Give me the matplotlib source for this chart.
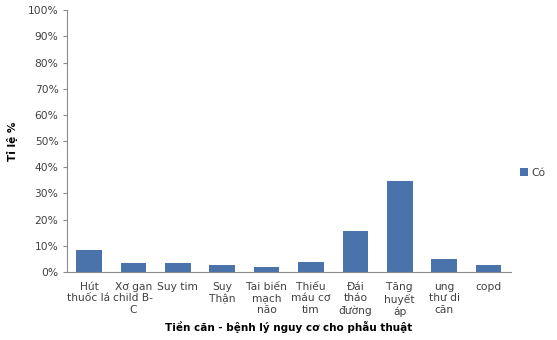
import matplotlib
matplotlib.use("Agg")
import matplotlib.pyplot as plt
from matplotlib.ticker import FuncFormatter, MultipleLocator

categories = [
    "Hút\nthuốc lá",
    "Xơ gan\nchild B-\nC",
    "Suy tim",
    "Suy\nThận",
    "Tai biến\nmạch\nnão",
    "Thiếu\nmáu cơ\ntim",
    "Đái\ntháo\nđường",
    "Tăng\nhuyết\náp",
    "ung\nthư di\ncăn",
    "copd",
]
co_values = [8.4, 3.4, 3.4, 2.5, 1.9, 3.8, 15.6, 34.7, 5.0, 2.5]

bar_color = "#4A72AB"
axis_color = "#8C8C8C"
text_color = "#404040"

plt.rcParams["font.family"] = ["DejaVu Sans"]

fig = plt.figure(figsize=(5.57, 3.4), dpi=100)
ax = fig.add_axes([0.120, 0.20, 0.797, 0.77])

x = range(len(categories))
ax.bar(x, co_values, width=0.58, color=bar_color, label="Có")

ax.set_xlim(-0.5, len(categories) - 0.5)
ax.set_ylim(0, 100)
ax.yaxis.set_major_locator(MultipleLocator(10))
ax.yaxis.set_major_formatter(FuncFormatter(lambda v, _: f"{v:.0f}%"))
ax.set_xticks(list(x))
ax.set_xticklabels(categories, fontsize=7.7, color=text_color, linespacing=1.2)
ax.tick_params(axis="x", length=0, pad=7)
ax.tick_params(axis="y", labelsize=7.7, labelcolor=text_color, length=3,
               color=axis_color, pad=3)

for side in ("top", "right"):
    ax.spines[side].set_visible(False)
for side in ("left", "bottom"):
    ax.spines[side].set_color(axis_color)
    ax.spines[side].set_linewidth(0.8)

ax.set_ylabel("Tỉ lệ %", fontsize=7.5, fontweight="bold", labelpad=7)
ax.set_xlabel("Tiền căn - bệnh lý nguy cơ cho phẫu thuật", fontsize=7.5,
              fontweight="bold", labelpad=3)

ax.legend(loc="center left", bbox_to_anchor=(1.0, 0.38), frameon=False,
          fontsize=7.7, handlelength=0.7, handleheight=0.7, handletextpad=0.3,
          labelcolor=text_color)

fig.savefig("out.png", dpi=100)
